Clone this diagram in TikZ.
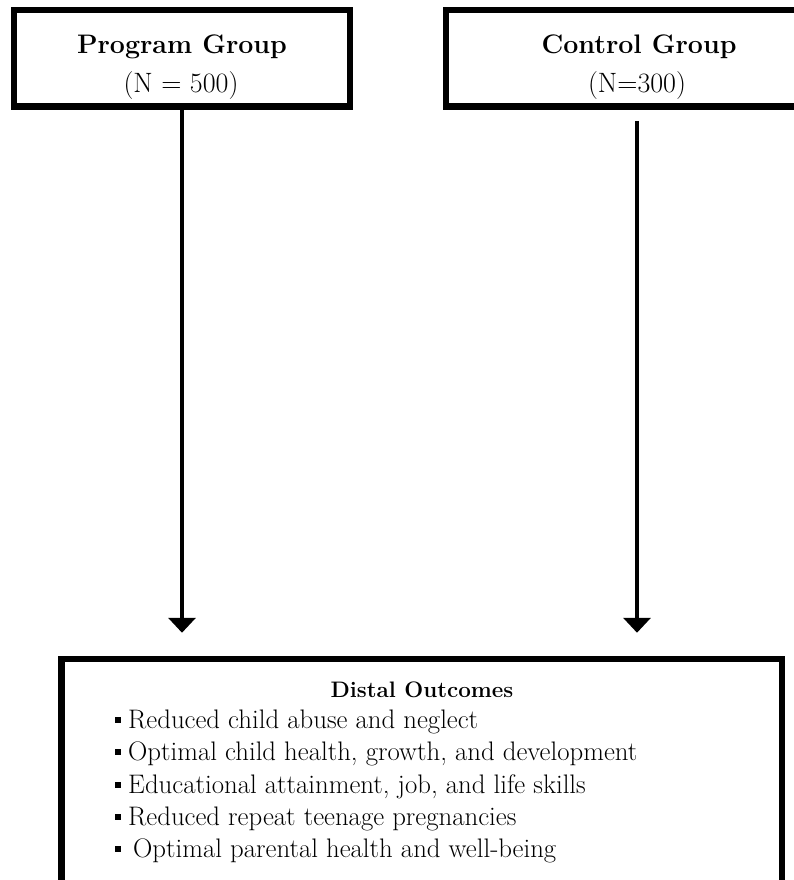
\documentclass[tikz,border=0pt]{standalone}
\usetikzlibrary{arrows.meta}
\begin{document}
\begin{tikzpicture}[x=1pt,y=-1pt,
  box/.style={draw=black, line width=6.5pt, fill=white, inner sep=0pt},
  conn/.style={line width=4.5pt, -{Triangle[width=27pt,length=15pt]}, shorten >=23pt},
  title/.style={anchor=base, inner sep=0pt, font=\fontsize{26.8}{30}\selectfont\bfseries},
  sub/.style={anchor=base, inner sep=0pt, font=\fontsize{28}{32}\selectfont},
  head/.style={anchor=base, inner sep=0pt, font=\fontsize{22.4}{26}\selectfont\bfseries},
  item/.style={anchor=base west, inner sep=0pt, font=\fontsize{26.8}{30}\selectfont},
  bul/.style={fill=black, inner sep=0pt, minimum size=6pt}
]
\fill[white] (0,0) rectangle (794,880);
\useasboundingbox (0,0) rectangle (794,880);

% boxes
\node[box, minimum width=336pt, minimum height=96.5pt] (prog) at (182,58.25) {};
\node[box, minimum width=354pt, minimum height=96.5pt] (ctrl) at (623,58.25) {};
\node[box, minimum width=720.5pt, minimum height=240pt] (outc) at (421.75,779) {};

% top texts
\node[title] (progt) at (182,54) {Program Group};
\node[sub] (progn) at (181,93) {(N = 500)};
\node[title] (ctrlt) at (639,54) {Control Group};
\node[sub] (ctrln) at (637,93) {(N=300)};

% connectors
\coordinate (cs) at (637,121);
\draw[conn] (prog.south) -- (prog.south |- outc.north);
\draw[conn] (cs) -- (cs |- outc.north);

% outcomes
\node[head] (oh) at (422,697) {Distal Outcomes};
\node[item] (i1) at (128,728) {Reduced child abuse and neglect};
\node[item] (i2) at (128,760) {Optimal child health, growth, and development};
\node[item] (i3) at (128,793) {Educational attainment, job, and life skills};
\node[item] (i4) at (128,825) {Reduced repeat teenage pregnancies};
\node[item] (i5) at (133,857) {Optimal parental health and well-being};
\node[bul] (b1) at (118,720) {};
\node[bul] (b2) at (118,752) {};
\node[bul] (b3) at (118,785) {};
\node[bul] (b4) at (118,817) {};
\node[bul] (b5) at (118,849) {};
\end{tikzpicture}
\end{document}
